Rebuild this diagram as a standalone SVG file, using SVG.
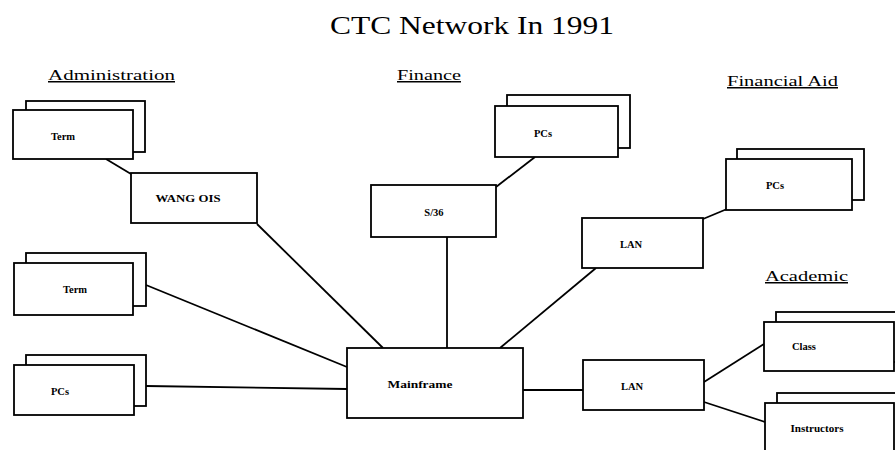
<svg xmlns="http://www.w3.org/2000/svg" width="895" height="450" viewBox="0 0 895 450">
<style>
.box{fill:#fff;stroke:#000;stroke-width:1.8}
.ln{fill:none;stroke:#000;stroke-width:1.8}
.t{font-family:"Liberation Serif",serif;font-weight:bold;font-size:10.5px;text-anchor:middle;fill:#000}
.lab{font-family:"Liberation Serif",serif;font-size:15px;fill:#000;text-decoration:underline}
.title{font-family:"Liberation Serif",serif;font-size:25px;fill:#000;text-anchor:middle}
</style>
<rect width="895" height="450" fill="#fff"/>
<text class="title" x="472" y="34" textLength="284" lengthAdjust="spacingAndGlyphs">CTC Network In 1991</text>
<text class="lab" x="48" y="80" textLength="127" lengthAdjust="spacingAndGlyphs">Administration</text>
<text class="lab" x="397" y="80" textLength="64" lengthAdjust="spacingAndGlyphs">Finance</text>
<text class="lab" x="727" y="86" textLength="111" lengthAdjust="spacingAndGlyphs">Financial Aid</text>
<text class="lab" x="765" y="281" textLength="83" lengthAdjust="spacingAndGlyphs">Academic</text>
<g id="connectors">
<line class="ln" x1="106" y1="159" x2="131" y2="174"/>
<line class="ln" x1="257" y1="224" x2="383" y2="348"/>
<line class="ln" x1="146" y1="285" x2="347" y2="367"/>
<line class="ln" x1="146" y1="386" x2="347" y2="389"/>
<line class="ln" x1="496" y1="187" x2="535" y2="157"/>
<line class="ln" x1="447" y1="237" x2="447" y2="348"/>
<line class="ln" x1="703" y1="219" x2="727" y2="209"/>
<line class="ln" x1="596" y1="268" x2="500" y2="348"/>
<line class="ln" x1="523" y1="390" x2="583" y2="390"/>
<line class="ln" x1="704" y1="382" x2="764" y2="344"/>
<line class="ln" x1="704" y1="402" x2="765" y2="422"/>
</g>
<g id="admin-term">
<rect class="box" x="26" y="101" width="119" height="51"/>
<rect class="box" x="13" y="110" width="120" height="49"/>
<text class="t" x="63" y="140">Term</text>
</g>
<g id="wang-ois">
<rect class="box" x="131" y="173" width="126" height="50"/>
<text class="t" x="188" y="202" textLength="65" lengthAdjust="spacingAndGlyphs">WANG OIS</text>
</g>
<g id="term2">
<rect class="box" x="26" y="253" width="120" height="53"/>
<rect class="box" x="14" y="263" width="119" height="52"/>
<text class="t" x="75" y="293">Term</text>
</g>
<g id="pcs-left">
<rect class="box" x="26" y="355" width="120" height="51"/>
<rect class="box" x="14" y="365" width="120" height="50"/>
<text class="t" x="60" y="395">PCs</text>
</g>
<g id="mainframe">
<rect class="box" x="347" y="348" width="176" height="70"/>
<text class="t" x="420" y="388" textLength="65" lengthAdjust="spacingAndGlyphs">Mainframe</text>
</g>
<g id="fin-pcs">
<rect class="box" x="507" y="95" width="123" height="53"/>
<rect class="box" x="495" y="106" width="123" height="51"/>
<text class="t" x="543" y="137">PCs</text>
</g>
<g id="s36">
<rect class="box" x="371" y="185" width="125" height="52"/>
<text class="t" x="434" y="216">S/36</text>
</g>
<g id="aid-pcs">
<rect class="box" x="737" y="149" width="127" height="51"/>
<rect class="box" x="726" y="159" width="126" height="51"/>
<text class="t" x="775" y="189">PCs</text>
</g>
<g id="aid-lan">
<rect class="box" x="582" y="218" width="121" height="50"/>
<text class="t" x="631" y="248">LAN</text>
</g>
<g id="acad-lan">
<rect class="box" x="583" y="360" width="121" height="50"/>
<text class="t" x="632" y="390">LAN</text>
</g>
<g id="class">
<rect class="box" x="776" y="312" width="130" height="50"/>
<rect class="box" x="764" y="322" width="130" height="49"/>
<text class="t" x="804" y="350">Class</text>
</g>
<g id="instructors">
<rect class="box" x="777" y="393" width="130" height="70"/>
<rect class="box" x="765" y="403" width="129" height="60"/>
<text class="t" x="817" y="432" textLength="53" lengthAdjust="spacingAndGlyphs">Instructors</text>
</g>
</svg>
